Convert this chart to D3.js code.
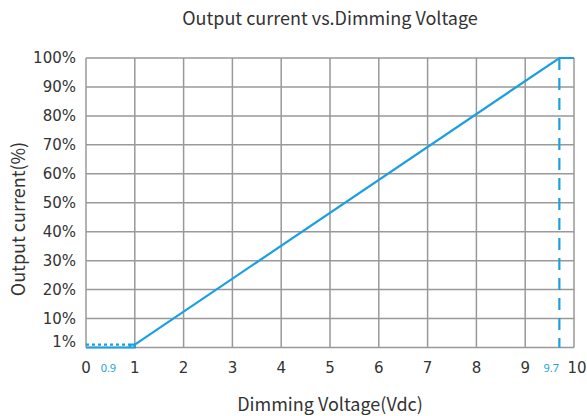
<!DOCTYPE html>
<html>
<head>
<meta charset="utf-8">
<script src="https://cdn.jsdelivr.net/npm/d3@7"></script>
<style>
  body { margin: 0; background: #fff; }
  text { fill: #333; }
</style>
</head>
<body>
<div id="chart"></div>
<script>
// axis ticks
var xTicks = [0, 1, 2, 3, 4, 5, 6, 7, 8, 9, 10];
var yGrid = [0, 10, 20, 30, 40, 50, 60, 70, 80, 90, 100];
var yLabels = [1, 10, 20, 30, 40, 50, 60, 70, 80, 90, 100];
var markTicks = [0.9, 9.7];

// curve: voltage vs output current (%)
var dottedPart = [[0, 1], [0.9, 1]];
var boxPart = [[0.9, 1], [1, 1], [1, 0], [0, 0]];
var boxSide = [[0.9, 1], [0.9, 0]];
var rampPart = [[1, 1], [9.7, 100], [10, 100]];
var dashedPart = [[9.7, 100], [9.7, 0]];

var width = 587, height = 416;
var margin = {top: 58, left: 86, right: 12, bottom: 68};
var blue = "#1a9fe0";

var svg = d3.select("#chart").append("svg")
    .attr("width", width)
    .attr("height", height);

var x = d3.scaleLinear().domain([0, 10]).range([margin.left, width - margin.right - 1]);
var y = d3.scaleLinear().domain([0, 100]).range([height - margin.bottom - 0.5, margin.top]);

var g = svg.append("g");

//grid
g.selectAll(".vgrid").data(xTicks).enter().append("line")
    .attr("x1", function(d){ return x(d); })
    .attr("x2", function(d){ return x(d); })
    .attr("y1", y(0)).attr("y2", y(100))
    .style("stroke", "#999").style("stroke-width", 1.5);

g.selectAll(".hgrid").data(yGrid).enter().append("line")
    .attr("y1", function(d){ return y(d); })
    .attr("y2", function(d){ return y(d); })
    .attr("x1", x(0)).attr("x2", x(10))
    .style("stroke", "#999").style("stroke-width", 1.5);

//tick labels
g.selectAll(".xt").data(xTicks).enter().append("text")
    .attr("x", function(d){ return x(d) + (d === 10 ? 3 : 0); })
    .attr("y", y(0) + 25)
    .attr("text-anchor", "middle")
    .style("font-family", "DejaVu Sans")
    .style("font-size", "15px")
    .text(function(d){ return d; });

// the small blue labels sit left of their positions
g.selectAll(".mt").data(markTicks).enter().append("text")
    .attr("x", function(d){ return d < 5 ? (x(0) + x(1)) / 2 - 2 : x(d) - 8; })
    .attr("y", y(0) + 24)
    .attr("text-anchor", "middle")
    .style("font-family", "Noto Sans")
    .style("font-size", "11px")
    .style("fill", blue)
    .text(function(d){ return d; });

g.selectAll(".yt").data(yLabels).enter().append("text")
    .attr("x", x(0) - 10)
    .attr("y", function(d){ return y(d === 1 ? 2 : d) + 5; })
    .attr("text-anchor", "end")
    .style("font-family", "DejaVu Sans")
    .style("font-size", "15px")
    .text(function(d){ return d + "%"; });

//curve
var line = d3.line()
    .x(function(d){ return x(d[0]); })
    .y(function(d){ return y(d[1]); });

function drawPart(pts, dash) {
    g.append("path")
        .datum(pts)
        .attr("d", line)
        .style("fill", "none")
        .style("stroke", blue)
        .style("stroke-width", 2.2)
        .style("stroke-dasharray", dash || null);
}

drawPart(dottedPart, "3,3");
drawPart(boxPart);
drawPart(boxSide);
drawPart(rampPart);
drawPart(dashedPart, "12,8");

//titles
svg.append("text")
    .attr("x", 330).attr("y", 25)
    .attr("text-anchor", "middle")
    .style("font-family", "Noto Sans CJK SC")
    .style("font-size", "18px")
    .text("Output current vs.Dimming Voltage");

svg.append("text")
    .attr("x", 330).attr("y", 411)
    .attr("text-anchor", "middle")
    .style("font-family", "Noto Sans CJK SC")
    .style("font-size", "18px")
    .text("Dimming Voltage(Vdc)");

svg.append("text")
    .attr("transform", "translate(25,219) rotate(-90)")
    .attr("text-anchor", "middle")
    .style("font-family", "Noto Sans CJK SC")
    .style("font-size", "18px")
    .text("Output current(%)");
</script>
</body>
</html>
